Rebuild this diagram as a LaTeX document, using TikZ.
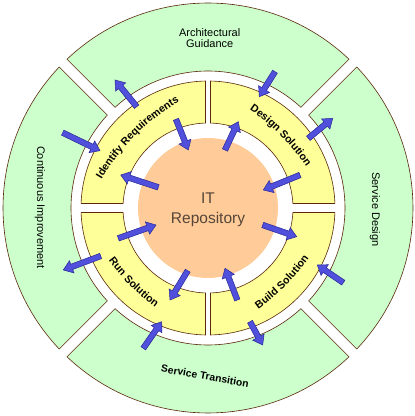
\documentclass[tikz,border=0pt]{standalone}
\usepackage{fontspec}
\setmainfont{Liberation Sans}
\usetikzlibrary{calc,decorations.text}
\definecolor{ringgreen}{RGB}{204,255,204}
\definecolor{quadyellow}{RGB}{255,255,153}
\definecolor{corepeach}{RGB}{255,204,153}
\definecolor{edgebrown}{RGB}{90,40,10}
\definecolor{arrowfill}{RGB}{80,80,220}
\definecolor{arrowedge}{RGB}{40,40,150}
\definecolor{coretext}{RGB}{85,68,55}
\tikzset{
  greensec/.style={fill=ringgreen, draw=edgebrown, line width=0.6pt},
  yellowsec/.style={fill=quadyellow, draw=edgebrown, line width=0.6pt},
  barrow/.style={fill=arrowfill, draw=arrowedge, line width=0.5pt, line join=miter},
  outerlabel/.style={font=\fontsize{11}{13}\selectfont, inner sep=0pt},
  corelabel/.style={font=\fontsize{15.5}{19}\selectfont, text=coretext, inner sep=0pt},
}
% annular sector: #1 start angle, #2 end angle, #3 inner r, #4 outer r, #5 half gap at start, #6 half gap at end, #7 style
\newcommand\annsec[7]{%
  \pgfmathsetmacro\aoS{#1+asin(#5/#4)}%
  \pgfmathsetmacro\aoE{#2-asin(#6/#4)}%
  \pgfmathsetmacro\aiS{#1+asin(#5/#3)}%
  \pgfmathsetmacro\aiE{#2-asin(#6/#3)}%
  \path[#7] ($(C)+(\aoS:#4pt)$) arc[start angle=\aoS, end angle=\aoE, radius=#4pt]
    -- ($(C)+(\aiE:#3pt)$) arc[start angle=\aiE, end angle=\aiS, radius=#3pt] -- cycle;}
% block arrow from #1 to #2
\newcommand\blockarrow[2]{%
  \draw[barrow] let \p1=($(#2)-(#1)$), \n1={atan2(\y1,\x1)} in
    ($(#1)+(\n1+90:2.8pt)$) -- ($(#2)!9pt!(#1)+(\n1+90:2.8pt)$)
    -- ($(#2)!9pt!(#1)+(\n1+90:6.5pt)$) -- (#2)
    -- ($(#2)!9pt!(#1)+(\n1-90:6.5pt)$) -- ($(#2)!9pt!(#1)+(\n1-90:2.8pt)$)
    -- ($(#1)+(\n1-90:2.8pt)$) -- cycle;}
% curved text: #1 centre angle, #2 baseline radius, #3 sign (1 clockwise, -1 counter), #4 text
\newcommand\curvetext[4]{%
  \pgfmathsetmacro\ctS{#1+#3*35}%
  \pgfmathsetmacro\ctE{#1-#3*35}%
  \pgfmathsetmacro\ctO{#2-220}%
  \path[decorate, decoration={text along path, text={#4}, text align=center}]
    ($(C)+(#1:\ctO pt)+(\ctS:220pt)$) arc[start angle=\ctS, end angle=\ctE, radius=220pt];}
\begin{document}
\begin{tikzpicture}[x=1pt,y=1pt]
\useasboundingbox (0,0) rectangle (415,416);
\fill[white] (0,0) rectangle (415,416);
\coordinate (C) at (208,208);
% outer green ring
\annsec{45}{135}{137}{205}{5.5}{5.5}{greensec}
\annsec{135}{225}{137}{205}{5.5}{5.5}{greensec}
\annsec{225}{315}{137}{205}{5.5}{5.5}{greensec}
\annsec{-45}{45}{137}{205}{5.5}{5.5}{greensec}
% yellow quadrants
\annsec{0}{90}{85}{127}{4.5}{2.5}{yellowsec}
\annsec{90}{180}{85}{127}{2.5}{4.5}{yellowsec}
\annsec{180}{270}{85}{127}{4.5}{2.5}{yellowsec}
\annsec{270}{360}{85}{127}{2.5}{4.5}{yellowsec}
% core
\node[circle, fill=corepeach, minimum size=140pt, inner sep=0pt] (core) at (C) {};
\node[corelabel, anchor=base] (itA) at (208,212) {IT};
\node[corelabel, anchor=base] (itB) at (208,192.5) {Repository};
% outer labels
\node[outerlabel, anchor=base] (archA) at (209.7,379) {Architectural};
\node[outerlabel, anchor=base] (archB) at (209.7,368) {Guidance};
\node[outerlabel, rotate=-90] (svcdesign) at (375,206.5) {Service Design};
\node[outerlabel, rotate=-90] (contimp) at (40,208.5) {Continuous Improvement};
\node[inner sep=0pt, rotate=-10, font=\bfseries\fontsize{10.3}{12}\selectfont] (svctrans) at (205,40) {Service Transition};
% inner curved labels
\curvetext{135}{102.5}{1}{|\bfseries\fontsize{10.6}{12}\selectfont|Identify Requirements}
\curvetext{45}{102.5}{1}{|\bfseries\fontsize{10.6}{12}\selectfont|Design Solution}
\curvetext{-45}{110}{-1}{|\bfseries\fontsize{10.6}{12}\selectfont|Build Solution}
\curvetext{225}{110}{-1}{|\bfseries\fontsize{10.6}{12}\selectfont|Run Solution}
% arrow end points
\coordinate (a1s) at (136.7,309.3); \coordinate (a1e) at (115,336);
\coordinate (a2s) at (62.7,283.3); \coordinate (a2e) at (100,265.3);
\coordinate (a3s) at (176,296.7); \coordinate (a3e) at (188.3,266);
\coordinate (a4s) at (158.3,228.7); \coordinate (a4e) at (120.7,241);
\coordinate (a5s) at (275,344.3); \coordinate (a5e) at (259.3,319.3);
\coordinate (a6s) at (225,266); \coordinate (a6e) at (238.3,294.3);
\coordinate (a7s) at (308.3,277.7); \coordinate (a7e) at (332.7,297.7);
\coordinate (a8s) at (300,241); \coordinate (a8e) at (263.3,226);
\coordinate (a9s) at (262.7,191); \coordinate (a9e) at (296.7,179.3);
\coordinate (a10s) at (343.3,133.3); \coordinate (a10e) at (317.3,151);
\coordinate (a11s) at (237.3,116); \coordinate (a11e) at (225,147.7);
\coordinate (a12s) at (250,94.3); \coordinate (a12e) at (262.7,71);
\coordinate (a13s) at (143.3,67.7); \coordinate (a13e) at (161.7,94.3);
\coordinate (a14s) at (187.7,145.3); \coordinate (a14e) at (170,116);
\coordinate (a15s) at (118.3,177.7); \coordinate (a15e) at (156,191);
\coordinate (a16s) at (100.7,160); \coordinate (a16e) at (63.3,146);
\foreach \k in {1,...,16} {\blockarrow{a\k s}{a\k e}}
\end{tikzpicture}
\end{document}
